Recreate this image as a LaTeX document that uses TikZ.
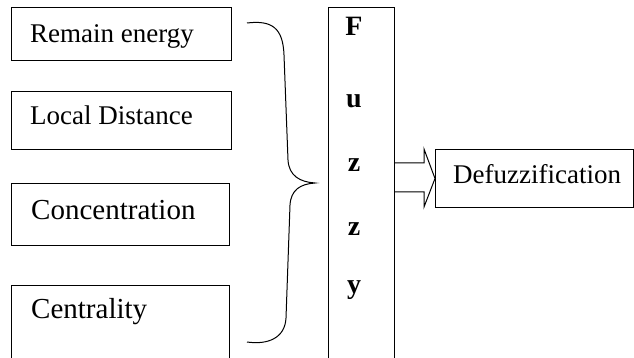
\documentclass[tikz,border=0pt]{standalone}
\usepackage{fontspec}
\setmainfont{Liberation Serif}
\begin{document}
\begin{tikzpicture}[x=1pt,y=-1pt,
  boxline/.style={draw=black,line width=1pt},
  lbl/.style={anchor=base west,inner sep=0pt,font=\fontsize{27}{30}\selectfont},
  lblbig/.style={anchor=base west,inner sep=0pt,font=\fontsize{29}{32}\selectfont},
  fz/.style={anchor=base,inner sep=0pt,font=\fontsize{28}{30}\selectfont\bfseries}]
\useasboundingbox (0,0) rectangle (634,358);
% input boxes
\node[boxline,rectangle,minimum width=220pt,minimum height=53pt,anchor=north west,inner sep=0pt] (b1) at (11,7) {};
\node[boxline,rectangle,minimum width=220pt,minimum height=58pt,anchor=north west,inner sep=0pt] (b2) at (11,91) {};
\node[boxline,rectangle,minimum width=218pt,minimum height=62pt,anchor=north west,inner sep=0pt] (b3) at (11,183) {};
\node[boxline,rectangle,minimum width=218pt,minimum height=80pt,anchor=north west,inner sep=0pt] (b4) at (11,285) {};
\node[lbl] (t1) at (30,43) {Remain energy};
\node[lbl] (t2) at (30,125) {Local Distance};
\node[lblbig] (t3) at (31,219) {Concentration};
\node[lblbig] (t4) at (31,318) {Centrality};
% brace
\coordinate (bt) at (247,23);
\coordinate (btip) at (315,183);
\coordinate (bb) at (247,342);
\draw[line width=1pt] (bt) .. controls (272,20) and (283,28) .. (284,55)
  -- (288,160) .. controls (289,176) and (300,182) .. (btip)
  .. controls (300,184) and (291,190) .. (290,205)
  -- (286,318) .. controls (285,338) and (268,345) .. (bb);
% fuzzy box
\node[boxline,rectangle,minimum width=66pt,minimum height=360pt,anchor=north west,inner sep=0pt] (fuzzy) at (328,7) {};
\node[fz] (f1) at (354,36) {F};
\node[fz] (f2) at (354,108) {u};
\node[fz] (f3) at (354,172) {z};
\node[fz] (f4) at (354,235) {z};
\node[fz] (f5) at (354,293) {y};
% defuzzification
\node[boxline,rectangle,minimum width=198pt,minimum height=58pt,anchor=north west,inner sep=0pt] (defuzz) at (435,149) {};
\node[lbl] (t5) at (453,184) {Defuzzification};
% block arrow
\draw[line width=1pt] (fuzzy.east |- 0,163) -- (424,163) -- (424,149) -- (defuzz.west) -- (424,207) -- (424,192) -- (fuzzy.east |- 0,192);
\end{tikzpicture}
\end{document}
